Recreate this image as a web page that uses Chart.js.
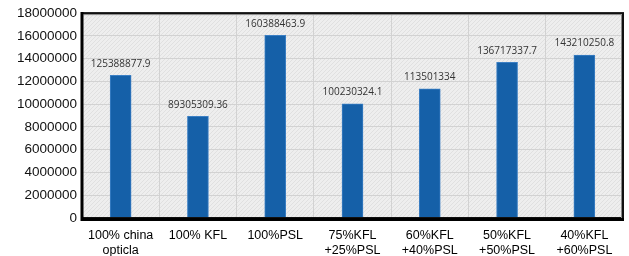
<!DOCTYPE html>
<html>
<head>
<meta charset="utf-8">
<script src="https://cdn.jsdelivr.net/npm/chart.js@4/dist/chart.umd.min.js"></script>
<style>
html,body{margin:0;padding:0;background:#fff;}
#wrap{width:629px;height:256px;}
</style>
</head>
<body>
<div id="wrap"><canvas id="c" width="629" height="256"></canvas></div>
<script>
const categories = [["100% china","opticla"],"100% KFL","100%PSL",["75%KFL","+25%PSL"],["60%KFL","+40%PSL"],["50%KFL","+50%PSL"],["40%KFL","+60%PSL"]];
const barValues = [12538887.79, 8930530.936, 16038846.39, 10023032.41, 11350133.4, 13671733.77, 14321025.08];
const dataLabels = ["125388877.9","89305309.36","160388463.9","100230324.1","113501334","136717337.7","143210250.8"];
const yTicks = [0,2000000,4000000,6000000,8000000,10000000,12000000,14000000,16000000,18000000];

function makePattern(ctx){
  const p = document.createElement('canvas');
  p.width = 4; p.height = 4;
  const g = p.getContext('2d');
  g.fillStyle = '#eeeeee'; g.fillRect(0,0,4,4);
  g.fillStyle = '#e0e0e0';
  for(let i=0;i<4;i++){ g.fillRect(i,3-i,1,1); }
  return ctx.createPattern(p,'repeat');
}

const bgPlugin = {
  id:'bg',
  beforeDraw(chart){
    const {ctx, chartArea:a} = chart;
    ctx.save();
    ctx.fillStyle = makePattern(ctx);
    ctx.fillRect(a.left, a.top, a.right-a.left, a.bottom-a.top);
    ctx.restore();
  },
  afterDatasetsDraw(chart){
    const {ctx, chartArea:a} = chart;
    ctx.save();
    ctx.strokeStyle = '#111';
    ctx.lineWidth = 2;
    ctx.strokeRect(a.left, a.top, a.right-a.left, a.bottom-a.top);
    ctx.lineWidth = 1;
    ctx.strokeStyle = '#888';
    ctx.beginPath();
    ctx.moveTo(a.left+1.5, a.top+1.5); ctx.lineTo(a.right-1.5, a.top+1.5);
    ctx.moveTo(a.right-1.5, a.top+1.5); ctx.lineTo(a.right-1.5, a.bottom);
    ctx.stroke();
    ctx.strokeStyle = '#000';
    ctx.lineWidth = 3;
    ctx.beginPath();
    ctx.moveTo(a.left, a.top-1); ctx.lineTo(a.left, a.bottom+1.5);
    ctx.lineTo(a.right+1, a.bottom+1.5);
    ctx.stroke();
    const meta = chart.getDatasetMeta(0);
    ctx.fillStyle = '#333333';
    ctx.font = '10px "Open Sans", "Liberation Sans", Arial, sans-serif';
    ctx.textAlign = 'center';
    ctx.textBaseline = 'middle';
    meta.data.forEach((bar,i)=>{
      ctx.fillText(dataLabels[i], bar.x, bar.y - 11.5);
    });
    ctx.restore();
  }
};

new Chart(document.getElementById('c'), {
  type:'bar',
  data:{
    labels: categories,
    datasets:[{
      data: barValues,
      backgroundColor:'#1560a8',
      borderColor:'#3b7fc4',
      borderWidth:{left:1,right:1,top:1,bottom:0},
      barThickness:21
    }]
  },
  options:{
    responsive:false,
    animation:false,
    events:[],
    layout:{padding:{left:0,right:6,top:12,bottom:0}},
    plugins:{legend:{display:false}, tooltip:{enabled:false}},
    scales:{
      x:{
        grid:{color:'#d2d2d2', drawTicks:false, offset:true},
        border:{display:false},
        ticks:{color:'#000', font:{family:'"Liberation Sans", Arial, sans-serif', size:12.5}, padding:10, maxRotation:0, autoSkip:false},
        afterFit(s){ s.height = 38; }
      },
      y:{
        min:0, max:18000000,
        afterBuildTicks(s){ s.ticks = yTicks.map(v=>({value:v})); },
        grid:{color:'#d2d2d2', drawTicks:false},
        border:{display:false},
        ticks:{color:'#111', font:{family:'"Liberation Sans", Arial, sans-serif', size:13.5}, padding:5,
          callback:(v)=>String(v)},
        afterFit(s){ s.width = 82; }
      }
    }
  },
  plugins:[bgPlugin]
});
</script>
</body>
</html>
